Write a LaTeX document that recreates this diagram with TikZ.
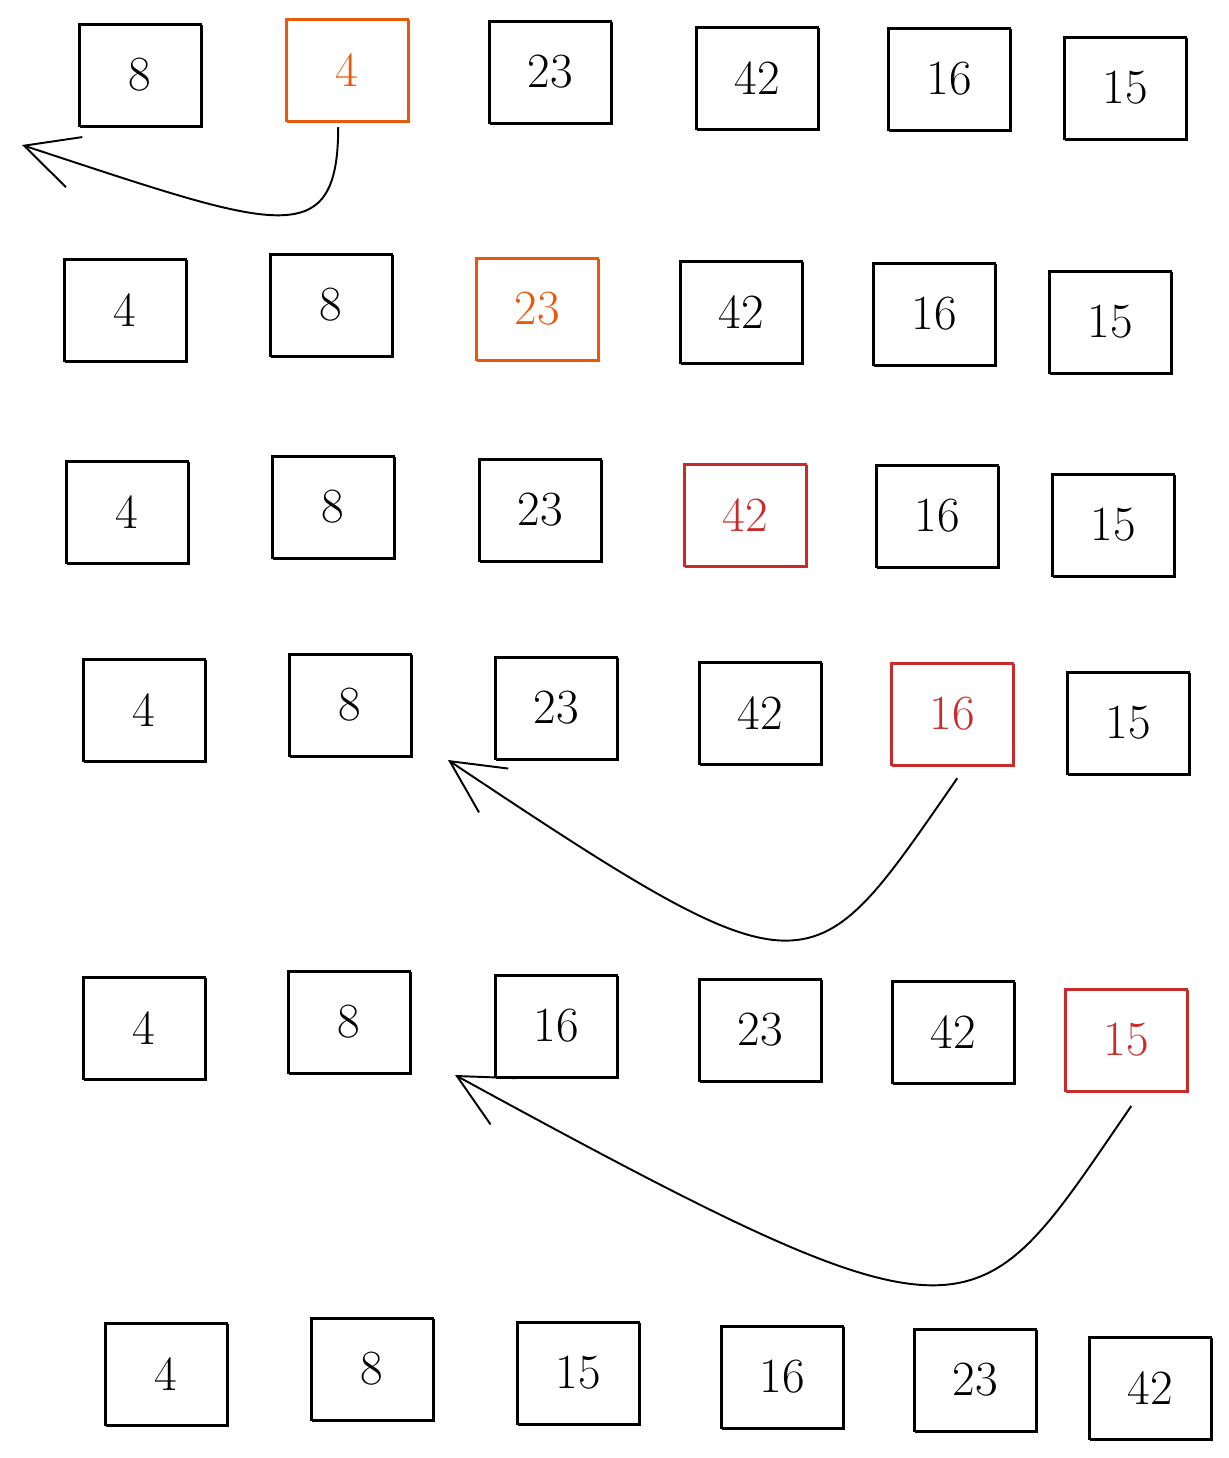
\documentclass[tikz,border=0pt]{standalone}
\usepackage{tikz}
\usetikzlibrary{arrows.meta}
\definecolor{sortorange}{HTML}{E8590C}
\definecolor{sortred}{HTML}{C92A2A}
\tikzset{
  cell/.style={draw, line width=1.1pt, minimum width=2.44cm, minimum height=2.04cm,
    font=\fontsize{28}{32}\selectfont,
    postaction={draw, line width=0.5pt, transform canvas={shift={(0.9pt,-0.7pt)}}}},
  pick/.style={cell, draw=sortorange, text=sortorange},
  hot/.style={cell, draw=sortred, text=sortred},
  move/.style={line width=1.1pt, -{Straight Barb[length=30pt,width=30pt,line width=1.1pt]}}
}
\begin{document}
\begin{tikzpicture}[x=0.02cm, y=-0.02cm]
  \useasboundingbox (0,0) rectangle (1229,1458);
  % ---- row 1: pick 4 ----
  \node[cell] (r1c1) at (140,75) {8};
  \node[pick] (r1c2) at (347,70) {4};
  \node[cell] (r1c3) at (550,72) {23};
  \node[cell] (r1c4) at (757,78) {42};
  \node[cell] (r1c5) at (949,79) {16};
  \node[cell] (r1c6) at (1125,88) {15};
  \coordinate (front) at (22,145);
  \draw[move] ([xshift=-5pt,yshift=-3pt]r1c2.south) .. controls (338,255) and (275,228) .. (front);
  % ---- row 2: 23 stays ----
  \node[cell] (r2c1) at (125,310) {4};
  \node[cell] (r2c2) at (331,305) {8};
  \node[pick] (r2c3) at (537,309) {23};
  \node[cell] (r2c4) at (741,312) {42};
  \node[cell] (r2c5) at (934,314) {16};
  \node[cell] (r2c6) at (1110,322) {15};
  % ---- row 3: 42 stays ----
  \node[cell] (r3c1) at (127,512) {4};
  \node[cell] (r3c2) at (333,507) {8};
  \node[cell] (r3c3) at (540,510) {23};
  \node[hot] (r3c4) at (745,515) {42};
  \node[cell] (r3c5) at (937,516) {16};
  \node[cell] (r3c6) at (1113,525) {15};
  % ---- row 4: move 16 ----
  \node[cell] (r4c1) at (144,710) {4};
  \node[cell] (r4c2) at (350,705) {8};
  \node[cell] (r4c3) at (556,708) {23};
  \node[cell] (r4c4) at (760,713) {42};
  \node[hot] (r4c5) at (952,714) {16};
  \node[cell] (r4c6) at (1128,723) {15};
  \coordinate (gap4) at (448,760);
  \draw[move] ([xshift=3pt,yshift=-7pt]r4c5.south) .. controls (810,990) and (815,1005) .. (gap4);
  % ---- row 5: move 15 ----
  \node[cell] (r5c1) at (144,1028) {4};
  \node[cell] (r5c2) at (349,1022) {8};
  \node[cell] (r5c3) at (556,1026) {16};
  \node[cell] (r5c4) at (760,1030) {23};
  \node[cell] (r5c5) at (953,1032) {42};
  \node[hot] (r5c6) at (1126,1040) {15};
  \coordinate (gap5) at (455,1075);
  \draw[move] ([xshift=3pt,yshift=-8pt]r5c6.south) .. controls (972,1337) and (983,1363) .. (gap5);
  % ---- row 6: sorted ----
  \node[cell] (r6c1) at (166,1374) {4};
  \node[cell] (r6c2) at (372,1369) {8};
  \node[cell] (r6c3) at (578,1373) {15};
  \node[cell] (r6c4) at (782,1377) {16};
  \node[cell] (r6c5) at (975,1380) {23};
  \node[cell] (r6c6) at (1150,1388) {42};
\end{tikzpicture}
\end{document}
